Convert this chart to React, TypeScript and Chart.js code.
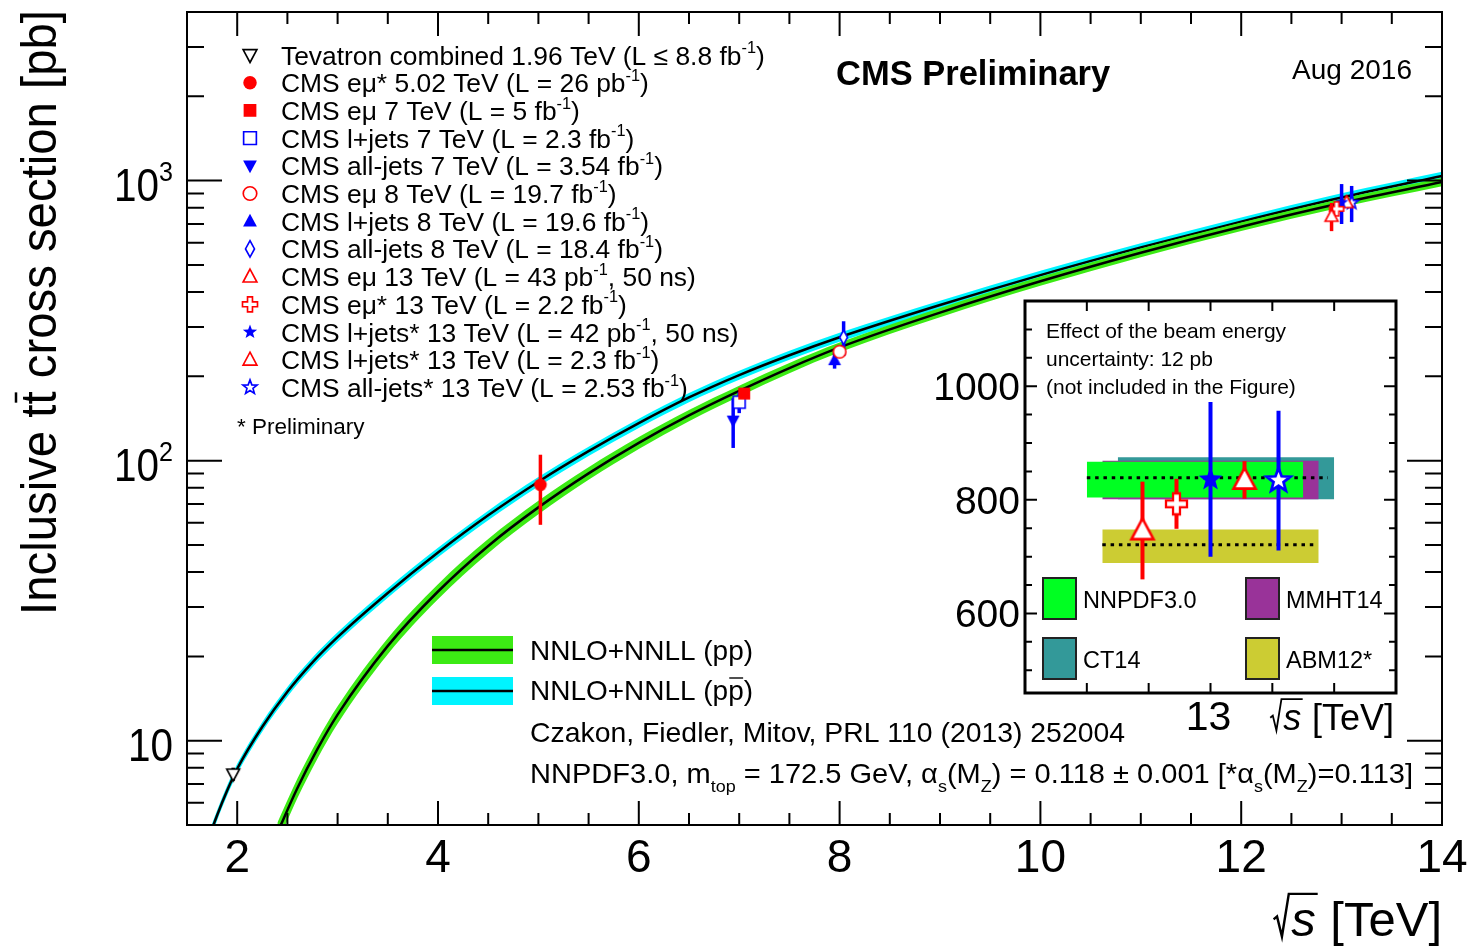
import { useEffect, useRef } from 'react';
import { Chart, registerables } from 'chart.js';

Chart.register(...registerables);

const FONT = '"Liberation Sans", Arial, Helvetica, sans-serif';

// ---- NNLO+NNLL predictions (pb) vs sqrt(s) (TeV) ----
const ppSqrtS = [2.4, 2.6, 2.8, 3.0, 3.5, 4.0, 4.5, 5.0, 5.5, 6.0, 6.5, 7.0, 7.5, 8.0, 9.0, 10.0, 11.0, 12.0, 13.0, 14.0];
const ppXsec = [4.69, 6.78, 9.35, 12.39, 21.8, 34.1, 49.6, 68.1, 90.1, 115.8, 145.0, 177.4, 214.1, 253.8, 337.8, 437, 552.7, 684.7, 831.8, 988.6];
const ppRelUnc = [0.085, 0.08, 0.076, 0.072, 0.066, 0.062, 0.058, 0.055, 0.052, 0.049, 0.046, 0.044, 0.042, 0.04, 0.038, 0.037, 0.036, 0.035, 0.035, 0.035];

const ppbarSqrtS = [1.7, 1.8, 1.9, 2.0, 2.25, 2.5, 2.75, 3.0, 3.5, 4.0, 4.5, 5.0, 5.5, 6.0, 6.5, 7.0, 7.5, 8.0, 9.0, 10.0, 11.0, 12.0, 13.0, 14.0];
const ppbarXsec = [4.33, 5.42, 6.64, 7.94, 11.22, 14.96, 19.05, 23.44, 33.7, 47.0, 63.8, 84.1, 108.1, 136.1, 168.1, 202.1, 237.9, 275.8, 359.4, 459.8, 577.4, 713.8, 870, 1039];
const ppbarRelUnc = [0.042, 0.042, 0.041, 0.041, 0.04, 0.04, 0.04, 0.04, 0.039, 0.039, 0.039, 0.039, 0.038, 0.038, 0.038, 0.037, 0.037, 0.037, 0.036, 0.036, 0.035, 0.035, 0.035, 0.035];

// ---- Measurements ----
const measLabels = [
  'Tevatron combined 1.96 TeV (L ≤ 8.8 fb^{-1})',
  'CMS eμ* 5.02 TeV (L = 26 pb^{-1})',
  'CMS eμ 7 TeV (L = 5 fb^{-1})',
  'CMS l+jets 7 TeV (L = 2.3 fb^{-1})',
  'CMS all-jets 7 TeV (L = 3.54 fb^{-1})',
  'CMS eμ 8 TeV (L = 19.7 fb^{-1})',
  'CMS l+jets 8 TeV (L = 19.6 fb^{-1})',
  'CMS all-jets 8 TeV (L = 18.4 fb^{-1})',
  'CMS eμ 13 TeV (L = 43 pb^{-1}, 50 ns)',
  'CMS eμ* 13 TeV (L = 2.2 fb^{-1})',
  'CMS l+jets* 13 TeV (L = 42 pb^{-1}, 50 ns)',
  'CMS l+jets* 13 TeV (L = 2.3 fb^{-1})',
  'CMS all-jets* 13 TeV (L = 2.53 fb^{-1})',
];
const measSqrtS = [1.96, 5.02, 7.05, 7.0, 6.94, 8.0, 7.95, 8.04, 12.9, 12.95, 13.0, 13.05, 13.1];
const measXsec = [7.6, 82, 173.6, 161.7, 139, 244.9, 228.5, 275.6, 746, 793, 836, 835, 834];
const measErr = [0.41, 23, 6.3, 13.9, 28, 9.1, 15.4, 39, 86, 44, 136, 33, 123];
const measMarker = ['triDownOpen', 'circleFill', 'squareFill', 'squareOpen', 'triDownFill', 'circleOpen', 'triUpFill', 'diamondOpen', 'triUpOpen', 'crossOpen', 'starFill', 'triUpOpen', 'starOpen'];
const measColor = ['#000000', '#ff0000', '#ff0000', '#0000ff', '#0000ff', '#ff0000', '#0000ff', '#0000ff', '#ff0000', '#ff0000', '#0000ff', '#ff0000', '#0000ff'];

// ---- 13 TeV zoom ----
const insetMeasIndex = [8, 9, 10, 11, 12];
const insetSqrtS = [12.89, 12.945, 13.0, 13.055, 13.11];
const pdfNames = ['NNPDF3.0', 'MMHT14', 'CT14', 'ABM12*'];
const pdfColors = ['#00ff22', '#993399', '#339999', '#cccc33'];
const pdfLayer = [28, 29, 30, 27];
const pdfFrom = [12.8, 12.825, 12.85, 12.825];
const pdfTo = [13.15, 13.175, 13.2, 13.175];
const pdfLow = [804, 801, 801, 689];
const pdfHigh = [867, 869, 875, 748];
const centralFrom = [12.8, 12.825];
const centralTo = [13.19, 13.17];
const centralXsec = [839, 721];

// ---- Axis ticks ----
const xTickValues = [2, 4, 6, 8, 10, 12, 14];
const xTickLabels = ['2', '4', '6', '8', '10', '12', '14'];
const yTickValues = [10, 100, 1000];
const yTickLabels = ['10', '10^{2}', '10^{3}'];
const insetYTickValues = [600, 800, 1000];
const insetYTickLabels = ['600', '800', '1000'];
const insetXTickValues = [13];
const insetXTickLabels = ['13'];

const PP_GREEN = '#3cea14';
const PPBAR_CYAN = '#00f4ff';
const INSET_LEFT = 900;
const INSET_TOP = 290;

// ---------- rich text (super/subscripts, overbars, radicals) ----------
type Seg = { text: string; kind: 'n' | 'sup' | 'sub'; bar?: boolean; it?: boolean; sqrt?: boolean };

function parseRich(src: string): Seg[] {
  const segs: Seg[] = [];
  let buf = '';
  let i = 0;
  const flush = () => {
    if (buf) segs.push({ text: buf, kind: 'n' });
    buf = '';
  };
  const take = (start: number) => {
    const end = src.indexOf('}', start);
    return { body: src.slice(start, end), next: end + 1 };
  };
  while (i < src.length) {
    const c = src[i];
    if ((c === '^' || c === '_') && src[i + 1] === '{') {
      flush();
      const { body, next } = take(i + 2);
      segs.push({ text: body, kind: c === '^' ? 'sup' : 'sub' });
      i = next;
    } else if (src.startsWith('#bar{', i)) {
      flush();
      const { body, next } = take(i + 5);
      segs.push({ text: body, kind: 'n', bar: true });
      i = next;
    } else if (src.startsWith('#it{', i)) {
      flush();
      const { body, next } = take(i + 4);
      segs.push({ text: body, kind: 'n', it: true });
      i = next;
    } else if (src.startsWith('#sqrt{', i)) {
      flush();
      const { body, next } = take(i + 6);
      segs.push({ text: body, kind: 'n', it: true, sqrt: true });
      i = next;
    } else {
      buf += c;
      i++;
    }
  }
  flush();
  return segs;
}

interface RichOpts {
  size: number;
  align?: 'left' | 'right' | 'center';
  bold?: boolean;
  color?: string;
  sx?: number;
  width?: number;
}

function segFont(seg: Seg, size: number, bold?: boolean) {
  const s = seg.kind === 'n' ? size : size * 0.62;
  return `${seg.it ? 'italic ' : ''}${bold ? 'bold ' : ''}${s}px ${FONT}`;
}

function drawRich(ctx: CanvasRenderingContext2D, src: string, x: number, y: number, o: RichOpts) {
  const segs = parseRich(src);
  const size = o.size;
  const widths = segs.map((seg) => {
    ctx.font = segFont(seg, size, o.bold);
    let w = ctx.measureText(seg.text).width;
    if (seg.sqrt) w += size * 0.4;
    return w;
  });
  const total = widths.reduce((a, b) => a + b, 0);
  const sx = o.width ? o.width / total : o.sx ?? 1;
  const drawn = total * sx;
  let x0 = x;
  if (o.align === 'right') x0 = x - drawn;
  else if (o.align === 'center') x0 = x - drawn / 2;
  const color = o.color ?? '#000';
  ctx.save();
  ctx.translate(x0, y);
  ctx.scale(sx, 1);
  ctx.fillStyle = color;
  ctx.strokeStyle = color;
  ctx.textAlign = 'left';
  ctx.textBaseline = 'alphabetic';
  let cx = 0;
  segs.forEach((seg, i) => {
    ctx.font = segFont(seg, size, o.bold);
    const dy = seg.kind === 'sup' ? -size * 0.43 : seg.kind === 'sub' ? size * 0.32 : 0;
    let tx = cx;
    if (seg.sqrt) {
      ctx.lineWidth = size * 0.05;
      ctx.lineJoin = 'miter';
      ctx.beginPath();
      ctx.moveTo(cx + size * 0.02, dy - size * 0.34);
      ctx.lineTo(cx + size * 0.09, dy - size * 0.4);
      ctx.lineTo(cx + size * 0.19, dy + size * 0.01);
      ctx.lineTo(cx + size * 0.33, dy - size * 0.86);
      ctx.lineTo(cx + widths[i] + size * 0.02, dy - size * 0.86);
      ctx.stroke();
      tx = cx + size * 0.38;
    }
    ctx.fillText(seg.text, tx, dy);
    if (seg.bar) {
      const w = ctx.measureText(seg.text).width;
      ctx.lineWidth = size * 0.05;
      ctx.beginPath();
      ctx.moveTo(tx + size * 0.04, dy - size * 0.8);
      ctx.lineTo(tx + w - size * 0.02, dy - size * 0.8);
      ctx.stroke();
    }
    cx += widths[i];
  });
  ctx.restore();
}

// ---------- markers ----------
function drawMarker(ctx: CanvasRenderingContext2D, kind: string, cx: number, cy: number, size: number, color: string) {
  const r = size / 2;
  const open = kind.endsWith('Open');
  const shape = kind.replace(/Open|Fill/, '');
  ctx.save();
  ctx.lineWidth = Math.max(1.6, size * 0.11);
  ctx.lineJoin = 'miter';
  ctx.strokeStyle = color;
  ctx.fillStyle = color;
  ctx.beginPath();
  const poly = (pts: number[][]) => {
    pts.forEach(([px, py], k) => (k === 0 ? ctx.moveTo(cx + px, cy + py) : ctx.lineTo(cx + px, cy + py)));
    ctx.closePath();
  };
  if (shape === 'circle') {
    ctx.arc(cx, cy, r * 0.9, 0, Math.PI * 2);
  } else if (shape === 'square') {
    ctx.rect(cx - r * 0.85, cy - r * 0.85, r * 1.7, r * 1.7);
  } else if (shape === 'triUp') {
    poly([[0, -r], [r * 0.92, r * 0.72], [-r * 0.92, r * 0.72]]);
  } else if (shape === 'triDown') {
    poly([[0, r], [r * 0.92, -r * 0.72], [-r * 0.92, -r * 0.72]]);
  } else if (shape === 'diamond') {
    poly([[0, -r * 1.1], [r * 0.6, 0], [0, r * 1.1], [-r * 0.6, 0]]);
  } else if (shape === 'cross') {
    const a = r * 0.33;
    poly([[-a, -r], [a, -r], [a, -a], [r, -a], [r, a], [a, a], [a, r], [-a, r], [-a, a], [-r, a], [-r, -a], [-a, -a]]);
  } else if (shape === 'star') {
    const pts: number[][] = [];
    for (let k = 0; k < 10; k++) {
      const ang = -Math.PI / 2 + (k * Math.PI) / 5;
      const rr = k % 2 === 0 ? r : r * 0.42;
      pts.push([Math.cos(ang) * rr, Math.sin(ang) * rr]);
    }
    poly(pts);
  }
  if (open) {
    ctx.fillStyle = '#ffffff';
    ctx.fill();
    ctx.stroke();
  } else {
    ctx.fill();
  }
  ctx.restore();
}

function markerImage(kind: string, size: number, color: string) {
  const c = document.createElement('canvas');
  const dim = Math.ceil(size + 8);
  c.width = dim;
  c.height = dim;
  const ctx = c.getContext('2d')!;
  drawMarker(ctx, kind, dim / 2, dim / 2, size, color);
  return c;
}

// ---------- plugins ----------
const errorBars = {
  id: 'errorBars',
  beforeDatasetDraw(chart: any, args: any) {
    const ds = chart.data.datasets[args.index];
    if (!ds.errors) return;
    const ctx = chart.ctx as CanvasRenderingContext2D;
    const xs = chart.scales.x;
    const ys = chart.scales.y;
    const a = chart.chartArea;
    ctx.save();
    ctx.beginPath();
    ctx.rect(a.left, a.top, a.right - a.left, a.bottom - a.top);
    ctx.clip();
    ctx.strokeStyle = ds.errorColor;
    ctx.lineWidth = ds.errorWidth;
    ds.data.forEach((p: any, i: number) => {
      const px = xs.getPixelForValue(p.x);
      ctx.beginPath();
      ctx.moveTo(px, ys.getPixelForValue(p.y - ds.errors[i]));
      ctx.lineTo(px, ys.getPixelForValue(p.y + ds.errors[i]));
      ctx.stroke();
    });
    ctx.restore();
  },
};

const mainDecor = {
  id: 'mainDecor',
  afterDraw(chart: any) {
    const ctx = chart.ctx as CanvasRenderingContext2D;
    const xs = chart.scales.x;
    const ys = chart.scales.y;
    const { left, right, top, bottom } = chart.chartArea;
    ctx.save();
    ctx.strokeStyle = '#000';
    ctx.lineWidth = 2;
    ctx.beginPath();
    for (let v = 2; v < 14; v += 0.5) {
      const px = xs.getPixelForValue(v);
      const len = xTickValues.includes(v) ? 24 : 12;
      ctx.moveTo(px, bottom);
      ctx.lineTo(px, bottom - len);
      ctx.moveTo(px, top);
      ctx.lineTo(px, top + len);
    }
    for (let d = 1; d <= 1000; d *= 10) {
      for (let k = 1; k <= 9; k++) {
        const v = k * d;
        if (v <= ys.min || v >= ys.max) continue;
        const py = ys.getPixelForValue(v);
        const len = k === 1 ? 35 : 17;
        ctx.moveTo(left, py);
        ctx.lineTo(left + len, py);
        ctx.moveTo(right, py);
        ctx.lineTo(right - len, py);
      }
    }
    ctx.stroke();
    ctx.strokeRect(left, top, right - left, bottom - top);

    xTickValues.forEach((v, i) => {
      drawRich(ctx, xTickLabels[i], xs.getPixelForValue(v), bottom + 47, { size: 46, align: 'center' });
    });
    yTickValues.forEach((v, i) => {
      drawRich(ctx, yTickLabels[i], left - 14, ys.getPixelForValue(v) + 20, { size: 46, align: 'right', sx: 0.88 });
    });

    // axis titles
    drawRich(ctx, '#sqrt{s} [TeV]', right, 936, { size: 49, align: 'right' });
    ctx.save();
    ctx.translate(56, 615);
    ctx.rotate(-Math.PI / 2);
    drawRich(ctx, 'Inclusive t#bar{t} cross section [pb]', 0, 0, { size: 50, width: 605 });
    ctx.restore();

    // measurement legend
    measLabels.forEach((label, i) => {
      const cy = 55 + i * 27.7;
      drawMarker(ctx, measMarker[i], 250, cy, 15, measColor[i]);
      drawRich(ctx, label, 281, cy + 9.5, { size: 26.4 });
    });
    drawRich(ctx, '* Preliminary', 237, 434, { size: 22.5 });

    drawRich(ctx, 'CMS Preliminary', 836, 85, { size: 34.5, bold: true });
    drawRich(ctx, 'Aug 2016', 1412, 79, { size: 28, align: 'right' });

    // theory legend
    ctx.fillStyle = PP_GREEN;
    ctx.fillRect(432, 636, 81, 28);
    ctx.fillStyle = PPBAR_CYAN;
    ctx.fillRect(432, 677, 81, 28);
    ctx.lineWidth = 2.5;
    ctx.strokeStyle = '#000';
    ctx.beginPath();
    ctx.moveTo(432, 650);
    ctx.lineTo(513, 650);
    ctx.moveTo(432, 691);
    ctx.lineTo(513, 691);
    ctx.stroke();
    drawRich(ctx, 'NNLO+NNLL (pp)', 530, 660, { size: 27.5, width: 223 });
    drawRich(ctx, 'NNLO+NNLL (p#bar{p})', 530, 700, { size: 27.5, width: 223 });
    drawRich(ctx, 'Czakon, Fiedler, Mitov, PRL 110 (2013) 252004', 530, 742, { size: 27.5, width: 595 });
    drawRich(ctx, 'NNPDF3.0, m_{top} = 172.5 GeV, α_{s}(M_{Z}) = 0.118 ± 0.001 [*α_{s}(M_{Z})=0.113]', 530, 783, { size: 27.5, width: 883 });
    ctx.restore();
  },
};

const insetDecor = {
  id: 'insetDecor',
  beforeDraw(chart: any) {
    const ctx = chart.ctx as CanvasRenderingContext2D;
    const { left, right, top, bottom } = chart.chartArea;
    ctx.save();
    ctx.fillStyle = '#fff';
    ctx.fillRect(left, top, right - left, bottom - top);
    ctx.restore();
  },
  afterDraw(chart: any) {
    const ctx = chart.ctx as CanvasRenderingContext2D;
    const xs = chart.scales.x;
    const ys = chart.scales.y;
    const { left, right, top, bottom } = chart.chartArea;
    ctx.save();
    ctx.strokeStyle = '#000';
    ctx.lineWidth = 2;
    ctx.beginPath();
    for (let k = 1; k <= 5; k++) {
      const px = xs.getPixelForValue(12.7 + k * 0.1);
      ctx.moveTo(px, bottom);
      ctx.lineTo(px, bottom - 10);
      ctx.moveTo(px, top);
      ctx.lineTo(px, top + 10);
    }
    for (let v = 500; v < 1150; v += 50) {
      const py = ys.getPixelForValue(v);
      const len = v % 200 === 0 ? 12 : 7;
      ctx.moveTo(left, py);
      ctx.lineTo(left + len, py);
      ctx.moveTo(right, py);
      ctx.lineTo(right - len, py);
    }
    ctx.stroke();
    ctx.lineWidth = 3;
    ctx.strokeRect(left, top, right - left, bottom - top);

    insetYTickValues.forEach((v, i) => {
      drawRich(ctx, insetYTickLabels[i], left - 5, ys.getPixelForValue(v) + 14, { size: 39, align: 'right' });
    });
    insetXTickValues.forEach((v, i) => {
      drawRich(ctx, insetXTickLabels[i], xs.getPixelForValue(v) - 2, bottom + 37, { size: 41, align: 'center' });
    });
    drawRich(ctx, '#sqrt{s} [TeV]', right - 2, bottom + 37, { size: 36, align: 'right' });

    ctx.translate(-INSET_LEFT, -INSET_TOP);
    drawRich(ctx, 'Effect of the beam energy', 1046, 338, { size: 21 });
    drawRich(ctx, 'uncertainty: 12 pb', 1046, 366, { size: 21 });
    drawRich(ctx, '(not included in the Figure)', 1046, 394, { size: 21 });

    const boxX = [1043, 1246, 1043, 1246];
    const boxY = [578, 578, 638, 638];
    pdfNames.forEach((name, p) => {
      ctx.fillStyle = pdfColors[p];
      ctx.fillRect(boxX[p], boxY[p], 33, 41);
      ctx.strokeStyle = '#222';
      ctx.lineWidth = 2;
      ctx.strokeRect(boxX[p], boxY[p], 33, 41);
      drawRich(ctx, name, boxX[p] + 40, boxY[p] + 30, { size: 23.5 });
    });
    ctx.restore();
  },
};

function buildMainChart(canvas: HTMLCanvasElement) {
  const band = (xs: number[], ys: number[], unc: number[], sign: number) =>
    xs.map((x, i) => ({ x, y: ys[i] * (1 + sign * unc[i]) }));
  const curve = (xs: number[], ys: number[]) => xs.map((x, i) => ({ x, y: ys[i] }));
  const lineBase = {
    pointRadius: 0,
    cubicInterpolationMode: 'monotone',
    clip: 0,
  };
  const datasets: any[] = [
    { ...lineBase, label: 'ppbar up', data: band(ppbarSqrtS, ppbarXsec, ppbarRelUnc, 1), borderColor: 'rgba(0,0,0,0)', backgroundColor: PPBAR_CYAN, fill: '+1', order: 40 },
    { ...lineBase, label: 'ppbar down', data: band(ppbarSqrtS, ppbarXsec, ppbarRelUnc, -1), borderColor: 'rgba(0,0,0,0)', fill: false, order: 40 },
    { ...lineBase, label: 'NNLO+NNLL (ppbar)', data: curve(ppbarSqrtS, ppbarXsec), borderColor: '#000', borderWidth: 2.5, fill: false, order: 39 },
    { ...lineBase, label: 'pp up', data: band(ppSqrtS, ppXsec, ppRelUnc, 1), borderColor: 'rgba(0,0,0,0)', backgroundColor: PP_GREEN, fill: '+1', order: 38 },
    { ...lineBase, label: 'pp down', data: band(ppSqrtS, ppXsec, ppRelUnc, -1), borderColor: 'rgba(0,0,0,0)', fill: false, order: 38 },
    { ...lineBase, label: 'NNLO+NNLL (pp)', data: curve(ppSqrtS, ppXsec), borderColor: '#000', borderWidth: 2.5, fill: false, order: 37 },
  ];
  measLabels.forEach((label, i) => {
    datasets.push({
      label,
      data: [{ x: measSqrtS[i], y: measXsec[i] }],
      errors: [measErr[i]],
      errorColor: measColor[i],
      errorWidth: 3.5,
      showLine: false,
      pointStyle: markerImage(measMarker[i], measMarker[i].startsWith('diamond') ? 13 : 14, measColor[i]),
      pointRadius: 7,
      order: i,
    });
  });
  return new Chart(canvas, {
    type: 'line',
    data: { datasets },
    options: {
      animation: false,
      responsive: false,
      devicePixelRatio: 1,
      layout: { padding: { left: 187, top: 12, right: 28, bottom: 123 } },
      scales: {
        x: { type: 'linear', min: 1.5, max: 14, display: false },
        y: { type: 'logarithmic', min: 5, max: 4000, display: false },
      },
      plugins: { legend: { display: false }, tooltip: { enabled: false } },
    },
    plugins: [errorBars, mainDecor],
  } as any);
}

function buildInsetChart(canvas: HTMLCanvasElement) {
  const datasets: any[] = [];
  pdfNames.forEach((name, p) => {
    datasets.push({
      label: name,
      data: [{ x: pdfFrom[p], y: pdfHigh[p] }, { x: pdfTo[p], y: pdfHigh[p] }],
      borderColor: 'rgba(0,0,0,0)',
      backgroundColor: pdfColors[p],
      pointRadius: 0,
      fill: '+1',
      order: pdfLayer[p],
    });
    datasets.push({
      label: name + ' low',
      data: [{ x: pdfFrom[p], y: pdfLow[p] }, { x: pdfTo[p], y: pdfLow[p] }],
      borderColor: 'rgba(0,0,0,0)',
      pointRadius: 0,
      fill: false,
      order: pdfLayer[p],
    });
  });
  centralXsec.forEach((y, i) => {
    datasets.push({
      label: 'central ' + i,
      data: [{ x: centralFrom[i], y }, { x: centralTo[i], y }],
      borderColor: '#000',
      borderWidth: 3,
      borderDash: [3.5, 4.8],
      pointRadius: 0,
      fill: false,
      order: 20,
    });
  });
  insetMeasIndex.forEach((m, i) => {
    const kind = measMarker[m];
    const size = kind.startsWith('star') ? 25 : kind.startsWith('cross') ? 21 : 24;
    datasets.push({
      label: measLabels[m],
      data: [{ x: insetSqrtS[i], y: measXsec[m] }],
      errors: [measErr[m]],
      errorColor: measColor[m],
      errorWidth: 4,
      showLine: false,
      pointStyle: markerImage(kind, size, measColor[m]),
      pointRadius: 10,
      order: i,
    });
  });
  return new Chart(canvas, {
    type: 'line',
    data: { datasets },
    options: {
      animation: false,
      responsive: false,
      devicePixelRatio: 1,
      layout: { padding: { left: 125, top: 10, right: 14, bottom: 57 } },
      scales: {
        x: { type: 'linear', min: 12.7, max: 13.3, display: false },
        y: { type: 'linear', min: 460, max: 1150, display: false },
      },
      plugins: { legend: { display: false }, tooltip: { enabled: false } },
    },
    plugins: [insetDecor, errorBars],
  } as any);
}

export default function App() {
  const mainRef = useRef<HTMLCanvasElement>(null);
  const insetRef = useRef<HTMLCanvasElement>(null);

  useEffect(() => {
    const main = buildMainChart(mainRef.current!);
    const inset = buildInsetChart(insetRef.current!);
    return () => {
      main.destroy();
      inset.destroy();
    };
  }, []);

  return (
    <div style={{ position: 'absolute', left: 0, top: 0, width: 1470, height: 948, background: '#fff' }}>
      <canvas ref={mainRef} width={1470} height={948} style={{ position: 'absolute', left: 0, top: 0, width: 1470, height: 948 }} />
      <canvas
        ref={insetRef}
        width={510}
        height={460}
        style={{ position: 'absolute', left: INSET_LEFT, top: INSET_TOP, width: 510, height: 460 }}
      />
    </div>
  );
}
